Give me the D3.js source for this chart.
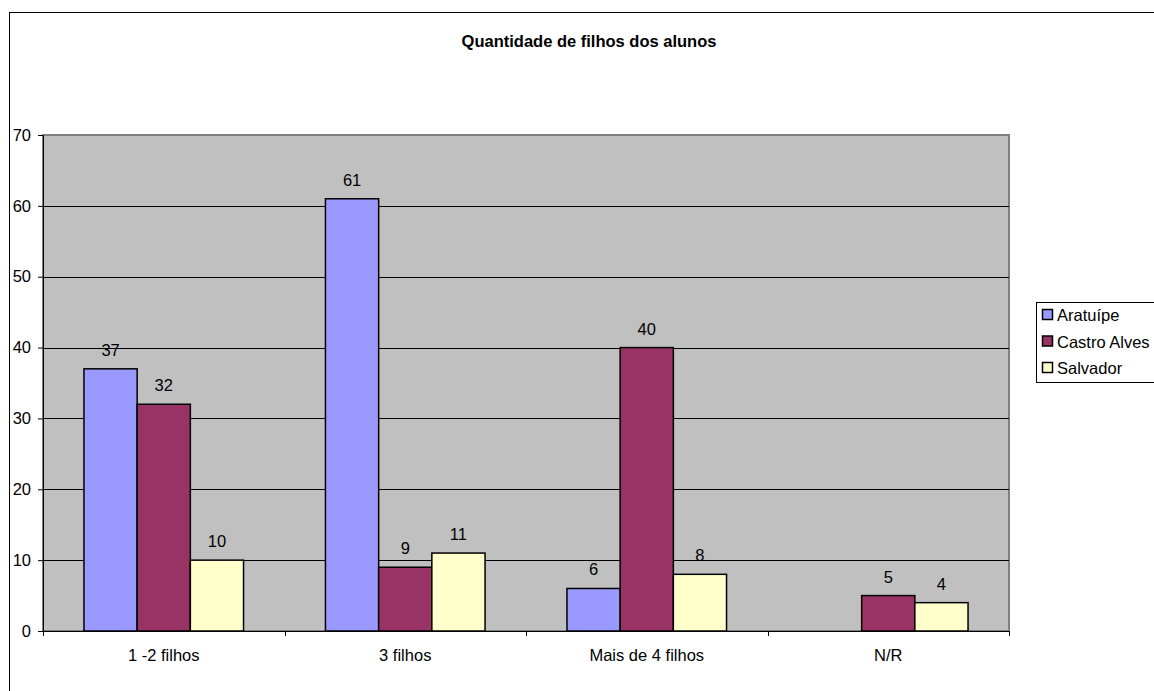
<!DOCTYPE html>
<html>
<head>
<meta charset="utf-8">
<script src="https://cdn.jsdelivr.net/npm/d3@7"></script>
<style>
  body { margin: 0; background: #fff; }
  text { font-family: Arial, "Liberation Sans", sans-serif; }
</style>
</head>
<body>
<svg id="chart" width="1154" height="691"></svg>
<script>
const categories = ['1 -2 filhos', '3 filhos', 'Mais de 4 filhos', 'N/R']
const seriesNames = ['Aratuípe', 'Castro Alves', 'Salvador']
const aratuipe = [37, 61, 6, null]
const castroAlves = [32, 9, 40, 5]
const salvador = [10, 11, 8, 4]
const colors = ['#9999ff', '#993366', '#ffffcc']
const yTicks = [0, 10, 20, 30, 40, 50, 60, 70]

const series = [aratuipe, castroAlves, salvador]
const fontSize = 16.5

const svg = d3.select('#chart')
const margin = {left: 43, top: 135, right: 1009, bottom: 631}

// outer chart border
svg.append('rect')
  .attr('x', 9.5).attr('y', 12.5)
  .attr('width', 1160).attr('height', 700)
  .attr('fill', 'none').attr('stroke', '#000').attr('stroke-width', 1)

svg.append('text')
  .attr('x', 589).attr('y', 47)
  .attr('text-anchor', 'middle')
  .attr('font-size', fontSize).attr('font-weight', 'bold')
  .text('Quantidade de filhos dos alunos')

const x0 = d3.scaleBand()
  .domain(categories)
  .range([margin.left, margin.right])
const x1 = d3.scaleBand()
  .domain(seriesNames)
  .range([0, x0.bandwidth()])
  .paddingOuter(0.77)
const y = d3.scaleLinear()
  .domain([0, 70])
  .range([margin.bottom, margin.top])

// plot background
svg.append('rect')
  .attr('x', margin.left).attr('y', margin.top)
  .attr('width', margin.right - margin.left).attr('height', margin.bottom - margin.top)
  .attr('fill', '#c0c0c0')
  .attr('stroke', '#808080').attr('stroke-width', 2)

// gridlines
svg.append('g')
  .selectAll('line')
  .data(yTicks.filter((t) => t > 0 && t < 70))
  .enter()
  .append('line')
  .attr('x1', margin.left).attr('x2', margin.right)
  .attr('y1', (d) => Math.round(y(d)) + 0.5).attr('y2', (d) => Math.round(y(d)) + 0.5)
  .attr('stroke', '#000')

// bars
const bars = []
series.forEach((vals, i) => {
  vals.forEach((v, j) => {
    if (v !== null) bars.push({cat: categories[j], name: seriesNames[i], value: v, color: colors[i]})
  })
})
const g = svg.append('g')
g.selectAll('rect.bar')
  .data(bars)
  .enter()
  .append('rect')
  .classed('bar', true)
  .attr('x', (d) => x0(d.cat) + x1(d.name))
  .attr('y', (d) => y(d.value))
  .attr('width', x1.bandwidth())
  .attr('height', (d) => y(0) - y(d.value))
  .attr('fill', (d) => d.color)
  .attr('stroke', '#000').attr('stroke-width', 1.5)
g.selectAll('text.label')
  .data(bars)
  .enter()
  .append('text')
  .classed('label', true)
  .attr('x', (d) => x0(d.cat) + x1(d.name) + x1.bandwidth() / 2)
  .attr('y', (d) => y(d.value) - 13)
  .attr('text-anchor', 'middle')
  .attr('font-size', fontSize)
  .attr('fill', '#000')
  .text((d) => d.value)

// axes
const yAxis = d3.axisLeft(y).tickValues(yTicks).tickSize(5).tickPadding(7)
svg.append('g')
  .attr('transform', 'translate(' + margin.left + ',0)')
  .call(yAxis)
  .call((a) => a.select('.domain').attr('stroke', '#000'))
  .call((a) => a.selectAll('text').attr('font-size', fontSize).attr('fill', '#000').attr('font-family', 'Arial, "Liberation Sans", sans-serif'))

const xAxisG = svg.append('g')
  .attr('transform', 'translate(0,' + margin.bottom + ')')
xAxisG.append('line')
  .attr('x1', margin.left).attr('x2', margin.right)
  .attr('y1', 0.5).attr('y2', 0.5)
  .attr('stroke', '#000')
xAxisG.selectAll('line.tick')
  .data(categories.map((c) => x0(c)).concat([margin.right]))
  .enter()
  .append('line')
  .classed('tick', true)
  .attr('x1', (d) => Math.round(d) + 0.5).attr('x2', (d) => Math.round(d) + 0.5)
  .attr('y1', 0).attr('y2', 5)
  .attr('stroke', '#000')
xAxisG.selectAll('text')
  .data(categories)
  .enter()
  .append('text')
  .attr('x', (d) => x0(d) + x0.bandwidth() / 2)
  .attr('y', 30)
  .attr('text-anchor', 'middle')
  .attr('font-size', fontSize)
  .text((d) => d)

// legend
const legend = svg.append('g')
legend.append('rect')
  .attr('x', 1036.5).attr('y', 302.5)
  .attr('width', 130).attr('height', 80)
  .attr('fill', '#fff').attr('stroke', '#000')
const items = legend.selectAll('g.item')
  .data(seriesNames)
  .enter()
  .append('g')
  .classed('item', true)
  .attr('transform', (d, i) => 'translate(1042,' + (315 + i * 26.5) + ')')
items.append('rect')
  .attr('x', 0.5).attr('y', -5.5)
  .attr('width', 10).attr('height', 10)
  .attr('fill', (d, i) => colors[i])
  .attr('stroke', '#000').attr('stroke-width', 1.5)
items.append('text')
  .attr('x', 15).attr('y', 6)
  .attr('font-size', fontSize)
  .text((d) => d)
</script>
</body>
</html>
